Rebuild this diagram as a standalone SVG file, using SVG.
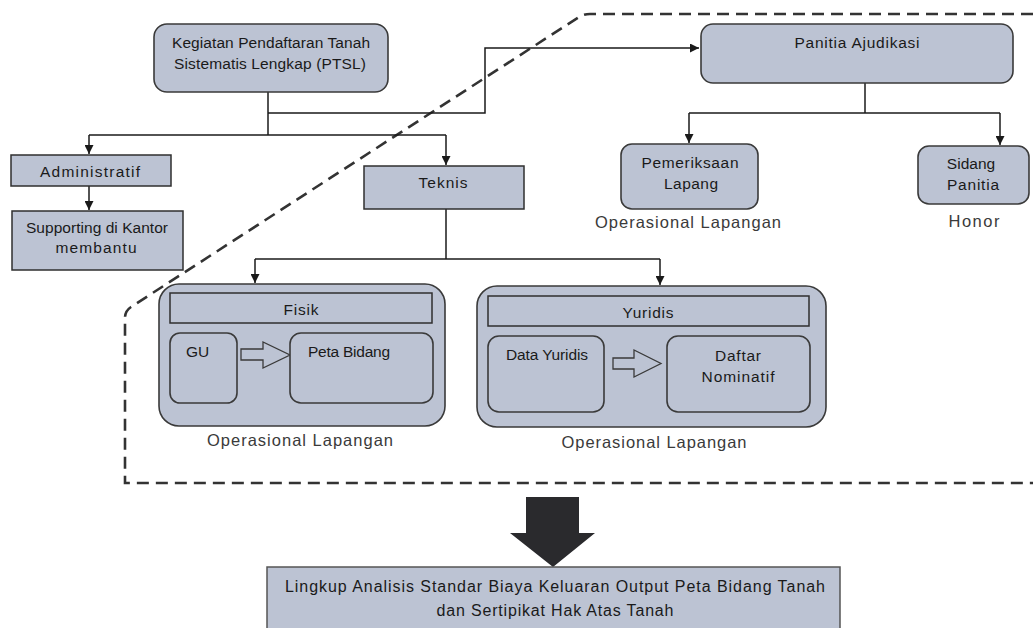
<svg xmlns="http://www.w3.org/2000/svg" width="1033" height="628" viewBox="0 0 1033 628">
  <defs>
    <marker id="ah" viewBox="0 0 10 10" refX="10" refY="5" markerWidth="9" markerHeight="9" markerUnits="userSpaceOnUse" orient="auto">
      <path d="M0,0 L10,5 L0,10 z" fill="#1a1a1a"/>
    </marker>
    <style>
      .box{fill:#bcc3d3;stroke:#2f2f2f;stroke-width:1.5}
      .rbox{fill:#bcc3d3;stroke:#3a3a3a;stroke-width:1.6}
      .t{font-family:"Liberation Sans",Arial,sans-serif;font-size:15.5px;fill:#1a1a1a}
      .lab{font-family:"Liberation Sans",Arial,sans-serif;font-size:16.5px;fill:#3a3a3a}
      .big{font-family:"Liberation Sans",Arial,sans-serif;font-size:16px;fill:#1a1a1a}
      .m{text-anchor:middle}
      .con{fill:none;stroke:#1a1a1a;stroke-width:1.5}
      .hollow{fill:#bcc3d3;stroke:#3a3a3a;stroke-width:1.3}
    </style>
  </defs>
  <rect width="1033" height="628" fill="#ffffff"/>

  <!-- dashed boundary -->
  <path d="M1033,14 H590 Q584,14 579,17 L131,307 Q125,311 125,318 V483 H1033" fill="none" stroke="#333333" stroke-width="2.6" stroke-dasharray="12 7"/>

  <g id="connectors">
    <path class="con" d="M268,92 V135"/>
    <path class="con" d="M268,113 H485 V48 H699" marker-end="url(#ah)"/>
    <path class="con" d="M89,135 H446"/>
    <path class="con" d="M89,135 V154" marker-end="url(#ah)"/>
    <path class="con" d="M446,135 V165" marker-end="url(#ah)"/>
    <path class="con" d="M89,186 V210" marker-end="url(#ah)"/>
    <path class="con" d="M446,209 V259"/>
    <path class="con" d="M255,259 H660"/>
    <path class="con" d="M255,259 V283" marker-end="url(#ah)"/>
    <path class="con" d="M660,259 V285" marker-end="url(#ah)"/>
    <path class="con" d="M865,83 V113"/>
    <path class="con" d="M689,113 H1000"/>
    <path class="con" d="M689,113 V143" marker-end="url(#ah)"/>
    <path class="con" d="M1000,113 V145" marker-end="url(#ah)"/>
  </g>

  <g id="ptsl">
    <rect class="rbox" x="154" y="24" width="234" height="68" rx="13"/>
    <text class="t m" x="271" y="48" textLength="198" lengthAdjust="spacing">Kegiatan Pendaftaran Tanah</text>
    <text class="t m" x="270" y="69" textLength="192" lengthAdjust="spacing">Sistematis Lengkap (PTSL)</text>
  </g>

  <g id="panitia">
    <rect class="rbox" x="701" y="24" width="312" height="59" rx="12"/>
    <text class="t m" x="857" y="48" textLength="125" lengthAdjust="spacing">Panitia Ajudikasi</text>
  </g>

  <g id="administratif">
    <rect class="box" x="11" y="155" width="160" height="31"/>
    <text class="t m" x="90" y="177" textLength="100" lengthAdjust="spacing">Administratif</text>
  </g>

  <g id="supporting">
    <rect class="box" x="12" y="211" width="171" height="59"/>
    <text class="t m" x="97" y="233" textLength="142" lengthAdjust="spacing">Supporting di Kantor</text>
    <text class="t m" x="96" y="253" textLength="81" lengthAdjust="spacing">membantu</text>
  </g>

  <g id="teknis">
    <rect class="box" x="364" y="166" width="160" height="43"/>
    <text class="t m" x="443" y="188" textLength="49" lengthAdjust="spacing">Teknis</text>
  </g>

  <g id="pemeriksaan">
    <rect class="rbox" x="621" y="144" width="137" height="65" rx="11"/>
    <text class="t m" x="690" y="168" textLength="97" lengthAdjust="spacing">Pemeriksaan</text>
    <text class="t m" x="691" y="189" textLength="54" lengthAdjust="spacing">Lapang</text>
    <text class="lab m" x="688" y="228" textLength="186" lengthAdjust="spacing">Operasional Lapangan</text>
  </g>

  <g id="sidang">
    <rect class="rbox" x="918" y="146" width="111" height="58" rx="11"/>
    <text class="t m" x="971" y="169">Sidang</text>
    <text class="t m" x="973" y="190" textLength="52" lengthAdjust="spacing">Panitia</text>
    <text class="lab m" x="974" y="227" textLength="51" lengthAdjust="spacing">Honor</text>
  </g>

  <g id="fisik">
    <rect class="rbox" x="159" y="284" width="286" height="142" rx="20"/>
    <rect class="box" x="170" y="293" width="262" height="30"/>
    <text class="t m" x="301" y="315" textLength="35" lengthAdjust="spacing">Fisik</text>
    <rect class="rbox" x="170" y="333" width="67" height="70" rx="10"/>
    <text class="t" x="186" y="357">GU</text>
    <polygon class="hollow" points="241,349 263,349 263,342 290,355 263,368 263,360 241,360"/>
    <rect class="rbox" x="290" y="333" width="143" height="70" rx="11"/>
    <text class="t" x="308" y="357" textLength="82" lengthAdjust="spacing">Peta Bidang</text>
    <text class="lab m" x="300" y="446" textLength="186" lengthAdjust="spacing">Operasional Lapangan</text>
  </g>

  <g id="yuridis">
    <rect class="rbox" x="477" y="286" width="349" height="141" rx="20"/>
    <rect class="box" x="488" y="296" width="321" height="30"/>
    <text class="t m" x="648" y="318" textLength="51" lengthAdjust="spacing">Yuridis</text>
    <rect class="rbox" x="488" y="336" width="116" height="76" rx="11"/>
    <text class="t" x="506" y="360" textLength="82" lengthAdjust="spacing">Data Yuridis</text>
    <polygon class="hollow" points="613,358 634,358 634,350 661,363.5 634,377 634,369 613,369"/>
    <rect class="rbox" x="667" y="336" width="143" height="76" rx="11"/>
    <text class="t m" x="738" y="361" textLength="46" lengthAdjust="spacing">Daftar</text>
    <text class="t m" x="738" y="382" textLength="73" lengthAdjust="spacing">Nominatif</text>
    <text class="lab m" x="654" y="448" textLength="185" lengthAdjust="spacing">Operasional Lapangan</text>
  </g>

  <g id="big-arrow">
    <polygon points="526,497 579,497 579,533 595,533 553,567 510,533 526,533" fill="#2a2a2d"/>
  </g>

  <g id="lingkup">
    <rect x="267" y="567" width="573" height="75" fill="#bcc3d3" stroke="#555555" stroke-width="1.5"/>
    <text class="big m" x="555" y="592" textLength="540" lengthAdjust="spacing">Lingkup Analisis Standar Biaya Keluaran Output Peta Bidang Tanah</text>
    <text class="big m" x="555" y="616" textLength="237" lengthAdjust="spacing">dan Sertipikat Hak Atas Tanah</text>
  </g>
</svg>
